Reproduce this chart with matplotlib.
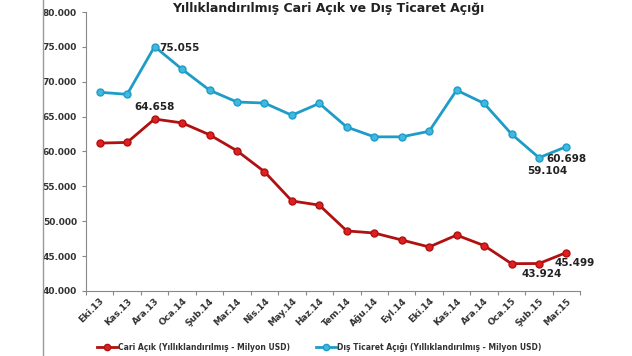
import matplotlib
matplotlib.use('Agg')
import matplotlib.pyplot as plt
from matplotlib.ticker import FuncFormatter
from matplotlib.lines import Line2D

months = ['Eki.13', 'Kas.13', 'Ara.13', 'Oca.14', 'Şub.14', 'Mar.14', 'Nis.14', 'May.14', 'Haz.14',
          'Tem.14', 'Ağu.14', 'Eyl.14', 'Eki.14', 'Kas.14', 'Ara.14', 'Oca.15', 'Şub.15', 'Mar.15']
cari = [61.2, 61.3, 64.658, 64.1, 62.4, 60.1, 57.1, 52.9, 52.3,
        48.6, 48.3, 47.3, 46.3, 48.0, 46.5, 43.9, 43.924, 45.499]
dis = [68.5, 68.2, 75.055, 71.8, 68.8, 67.1, 66.95, 65.2, 66.9,
       63.5, 62.1, 62.1, 62.9, 68.8, 66.9, 62.5, 59.104, 60.698]
names = ['Cari Açık (Yıllıklandırılmış - Milyon USD)', 'Dış Ticaret Açığı (Yıllıklandırılmış - Milyon USD)']

red = '#B01010'
blue = '#1E9CC8'

fig = plt.figure(figsize=(6.32, 3.56), dpi=100)
ax = fig.add_axes([0.136, 0.183, 0.782, 0.783])

x = range(len(months))
ax.plot(x, cari, color=red, lw=2.0, marker='o', ms=5, mfc='#E02020', mec=red, mew=1)
ax.plot(x, dis, color=blue, lw=2.0, marker='o', ms=5, mfc='#40B8E0', mec=blue, mew=1)

ax.set_ylim(40, 80)
ax.set_yticks(range(40, 81, 5))
ax.yaxis.set_major_formatter(FuncFormatter(lambda v, p: '%d.000' % v))
ax.set_xlim(-0.5, len(months) - 0.5)
ax.set_xticks([i - 0.5 for i in range(len(months) + 1)], minor=False)
ax.set_xticklabels([])
ax.set_xticks(list(x), minor=True)
ax.set_xticklabels(months, minor=True, rotation=45, ha='right', rotation_mode='anchor',
                   fontsize=6.5, fontweight='bold', color='#333333')
ax.tick_params(axis='x', which='minor', length=0, pad=4)
ax.tick_params(axis='x', which='major', length=3, color='#888888')
ax.tick_params(axis='y', length=3, color='#888888', labelsize=6.5, labelcolor='#333333')
for lab in ax.get_yticklabels():
    lab.set_fontweight('bold')
for s in ['top', 'right']:
    ax.spines[s].set_visible(False)
for s in ['left', 'bottom']:
    ax.spines[s].set_color('#888888')

lbl = dict(fontsize=7.5, fontweight='bold', color='#222222')
ax.annotate('75.055', (2, dis[2]), xytext=(3, -1), textcoords='offset points', va='center', **lbl)
ax.annotate('64.658', (2, cari[2]), xytext=(0, 5), textcoords='offset points', ha='center', va='bottom', **lbl)
ax.annotate('60.698', (17, dis[17]), xytext=(0, -5), textcoords='offset points', ha='center', va='top', **lbl)
ax.annotate('59.104', (16, dis[16]), xytext=(6, -6), textcoords='offset points', ha='center', va='top', **lbl)
ax.annotate('43.924', (16, cari[16]), xytext=(2, -4), textcoords='offset points', ha='center', va='top', **lbl)
ax.annotate('45.499', (17, cari[17]), xytext=(6, -4), textcoords='offset points', ha='center', va='top', **lbl)

fig.text(0.52, 0.975, 'Yıllıklandırılmış Cari Açık ve Dış Ticaret Açığı', ha='center', va='center',
         fontsize=9, fontweight='bold', color='#222222')

fig.add_artist(Line2D([0.068, 0.068], [0, 1], color='#999999', lw=1))

handles = [Line2D([], [], color=red, lw=2.0, marker='o', ms=4.5, mfc='#E02020', mec=red),
           Line2D([], [], color=blue, lw=2.0, marker='o', ms=4.5, mfc='#40B8E0', mec=blue)]
leg = fig.legend(handles, names, loc='center', bbox_to_anchor=(0.505, 0.025), ncol=2, frameon=False,
                 fontsize=5.5, handlelength=2.6, handletextpad=0.1, columnspacing=3.5)
for t in leg.get_texts():
    t.set_fontweight('bold')
    t.set_color('#333333')

fig.savefig('out.png', dpi=100)
